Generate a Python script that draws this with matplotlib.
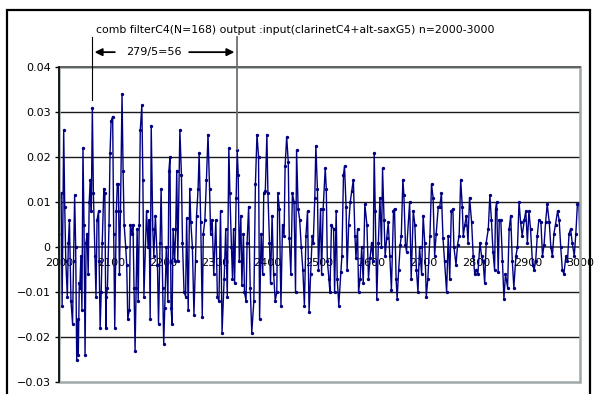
import matplotlib
matplotlib.use('Agg')
import numpy as np
import matplotlib.pyplot as plt
from matplotlib.patches import Rectangle

# sample index n and filter output (x 1e-3)
sample_n = [
    2000, 2002, 2004, 2006, 2009, 2011, 2013, 2016, 2018, 2020, 2023, 2026, 2028, 2030, 2032, 2034,
    2036, 2037, 2039, 2040, 2042, 2044, 2046, 2048, 2050, 2052, 2054, 2056, 2058, 2060, 2062, 2064,
    2066, 2069, 2071, 2073, 2076, 2077, 2079, 2081, 2083, 2086, 2088, 2090, 2091, 2093, 2096, 2098,
    2100, 2103, 2105, 2107, 2110, 2112, 2114, 2116, 2118, 2121, 2123, 2125, 2128, 2130, 2132, 2135,
    2137, 2140, 2142, 2144, 2146, 2148, 2150, 2152, 2154, 2156, 2159, 2161,
    2163, 2168, 2171, 2173, 2175, 2177, 2180, 2182, 2185, 2189, 2191, 2194, 2196, 2199, 2201, 2203,
    2206, 2209, 2211, 2213, 2215, 2217, 2219, 2222, 2224, 2226, 2228, 2232, 2235, 2237, 2240, 2243,
    2245, 2248, 2251, 2253, 2256, 2259, 2262, 2264, 2267, 2269, 2272, 2275, 2277, 2280, 2283, 2286,
    2289, 2291, 2294, 2297, 2301, 2304, 2307, 2310, 2313, 2317, 2320, 2323, 2326, 2328, 2331, 2333,
    2335, 2337, 2340, 2342, 2344, 2346, 2349, 2351, 2354, 2356, 2359, 2361, 2364, 2367, 2370, 2374,
    2377, 2380, 2383, 2385, 2388, 2391, 2393, 2396, 2399, 2401, 2404, 2406, 2409, 2412, 2415, 2418,
    2420, 2423, 2426, 2429, 2432, 2434, 2437, 2440, 2442, 2445, 2448, 2451, 2454, 2456, 2459, 2462,
    2465, 2468, 2471, 2474, 2477, 2480, 2483, 2486, 2488, 2491, 2493, 2496, 2498,
    2502, 2504, 2507, 2511, 2513, 2515, 2518, 2520, 2523, 2527, 2529, 2532, 2534, 2537, 2541, 2543,
    2546, 2548, 2551, 2553, 2556, 2559, 2562, 2565, 2568, 2570, 2573, 2575, 2578, 2581, 2584, 2587,
    2591, 2594, 2597, 2600, 2603, 2605, 2607, 2610, 2613, 2616, 2619, 2621, 2624, 2626, 2629, 2632,
    2635, 2638, 2642, 2644, 2647, 2649, 2652, 2655, 2657, 2660, 2662, 2665, 2667,
    2673, 2676, 2680, 2683, 2686, 2689, 2692, 2696, 2699, 2702, 2705, 2708, 2712, 2715, 2718, 2721,
    2724, 2728, 2731, 2734, 2737, 2740, 2744, 2747, 2750, 2753, 2756, 2758, 2762, 2765, 2768, 2771,
    2774, 2776, 2779, 2782, 2785, 2788, 2792, 2795, 2798, 2801, 2804, 2808, 2811, 2814, 2817, 2820,
    2824, 2827, 2830, 2833, 2836,
    2838, 2840, 2843, 2845, 2848, 2851, 2854, 2857, 2861, 2864, 2867, 2870, 2873, 2877, 2880, 2883,
    2886, 2889, 2893, 2896, 2899, 2902, 2905, 2909, 2912, 2915, 2918, 2921, 2925, 2928, 2931, 2934,
    2937, 2941, 2944, 2947, 2950, 2953, 2957, 2960, 2963, 2966, 2969, 2973, 2976, 2979, 2982, 2985,
    2989, 2992, 2995, 2998, 3000,
]
output_milli = [
    3, 10, 12, -13, 26, 9, -3, -11, 1, 6, -12, -17, -3, 11.5, 0, -25,
    -16, -24, -8, -9, -2, -14, 22, 5, -24, 1, 3, -6, 10, 15, 8, 31,
    12, -2, -11, 6, 8, -3, -18, -10, 1, 13, 12, -18, -11, -9, 5, 21,
    28, 29, 3, -18, 8, 14, 14, -6, 8, 34, 17, 5, 0, -4, -16, -14,
    5, 3, 5, -9, -23, -9, 4, -12, 5, 26, 31.5, 15,
    -11, 8, 0, 6, -16, 27, 4, -2, 7, -4, -17, 1, 13, -9, -21.5, -13.5,
    0, -12, 17, 20, -13.5, -17, 4, -3, 4, 17, -3, 26, 16, 1, -10, -11,
    6.5, -14, 13, 5.5, 0, -15, -3, 7, 13, 21, 5.5, -15.5, 3, 6, 15, 25,
    13, 3, 6, -6, 6, -11, -12, 8, -19, -7, 4, -11, 22, 12, 0, -7,
    4, -8, 11, 21.5, 16, -3, 7, -8.5, 3, -10, -12, 1, 9, -9, -19, -12,
    14, 25, 20, -16, 3, -6, 12, 12.5, 25, 12, 1, -8, 7, -6, -12, -10,
    12, 8.5, -13, 5, 2.5, 18, 24.5, 19, 2, -6, 12, 10, -10, 21.5, 8.5, 6,
    0, -5, -13, 2.5, 8, -14.5, -6, 2.5, 1, 11, 22.5, 13, -5,
    8.5, -6, 8.5, 17.5, 13, -3, -7, -10, 5, 4, -10, 8, -7, -13, -5.5, -2,
    16, 18, 9, -5, 5, 10, 12.5, 15, 2.5, -2.5, 4, -10, -7, 0, -8, 9.5,
    5, -7, -2.5, 1, -3, 21, 8, -11.5, 1, 11, 0, 17.5, 6, -2, 2, 5.5,
    -2, -9.5, 8, 8.5, -7, -11.5, -5, 0.5, 2.5, 15, 11.5, 0.5, -1,
    10, -7, 8, 5, -5, -10, 0, -6, 7, 1, -11, -7, 2.5, 14, 11, -2,
    3, 9, 9, 12, 2, -3, -10, 2.5, -7, 8, 8.5, 0, -4, 0.5, 2.5, 15,
    9, 2.5, 5, 7, 1, 11, 5.5, -2, -6, -5, -6, 1, -2, -3, -8, 1,
    4, 11.5, 6, -1, -5,
    8.5, 10, -5.5, 6, 6, -3, -11.5, -6, -9, 4, 7, -3, -9, -2, 0, 10,
    5.5, 2.5, 6, 8, 1, 8, 4, -4, -5, -3, 2.5, 6, 5.5, -2, 0.5, 5.5,
    9.5, 5.5, 0, -2, 3, 5, 8, 6, 0, -5, -6, -2, -3, 3, 4, 1,
    -2, 3, 9.5, 9.5, 0,
]

y_ticks = [0.04, 0.03, 0.02, 0.01, 0.0, -0.01, -0.02, -0.03]
y_labels = ['0.04', '0.03', '0.02', '0.01', '0', '\u22120.01', '\u22120.02', '\u22120.03']
x_ticks = list(range(2000, 3001, 100))

title = 'comb filterC4(N=168) output :input(clarinetC4+alt-saxG5) n=2000-3000'
period_text = '279/5=56'
mark_left = 2063   # start of the measured span
mark_right = 2342  # five periods later

W, H = 597, 394
fig = plt.figure(figsize=(W / 100, H / 100), dpi=100)
fig.patch.set_facecolor('white')

# outer chart frame (bottom edge runs off the picture)
fig.add_artist(Rectangle((7 / W, -0.1), 583 / W, 1 - 10 / H + 0.1,
                         transform=fig.transFigure, fill=False,
                         edgecolor='black', lw=1.6))

ax = fig.add_axes([59 / W, 12 / H, 521 / W, 315 / H])

y = np.array(output_milli) / 1000.0
ax.plot(sample_n, y, color='#000080', lw=1.0, marker='o', ms=1.4,
        mec='#000080', mfc='#000080', zorder=3)

ax.set_xlim(2000, 3000)
ax.set_ylim(-0.03, 0.04)

# horizontal gridlines
for v in y_ticks[1:-1]:
    if v != 0:
        ax.axhline(v, color='#1a1a1a', lw=1.0, zorder=1)

# plot area border (grey), top edge darker like the gridlines
ax.add_patch(Rectangle((0, 0), 1, 1, transform=ax.transAxes, fill=False,
                       edgecolor='#9ea8a8', lw=1.8, zorder=4, clip_on=False))
ax.axhline(0.04, color='#5a5a5a', lw=1.3, zorder=5, clip_on=False)

for s in ['top', 'right']:
    ax.spines[s].set_visible(False)
ax.spines['left'].set_color('black')
ax.spines['left'].set_linewidth(1.2)
ax.spines['left'].set_zorder(6)
ax.spines['bottom'].set_position(('data', 0))
ax.spines['bottom'].set_color('#404040')
ax.spines['bottom'].set_linewidth(1.2)
ax.spines['bottom'].set_zorder(2)

ax.set_yticks(y_ticks)
ax.set_yticklabels(y_labels)
ax.set_xticks(x_ticks)
ax.set_xticklabels([str(t) for t in x_ticks])
ax.tick_params(axis='y', length=3, width=1, color='black', pad=3, labelsize=8)
ax.tick_params(axis='x', length=0, pad=8, labelsize=8)

# title line
fig.text(96 / W, 1 - 30 / H, title, fontsize=7.8, ha='left', va='center')

# period markers and arrows
ax.plot([mark_left, mark_left], [0.0467, 0.0327], color='black', lw=0.8,
        clip_on=False, zorder=6)
ax.plot([mark_right, mark_right], [0.0467, 0.0218], color='#707070', lw=1.3,
        clip_on=False, zorder=6)
arrow_y = 0.0433
mid = (mark_left + mark_right) / 2 - 20
ax.annotate('', xy=(mark_left, arrow_y), xytext=(mid - 70, arrow_y),
            arrowprops=dict(arrowstyle='-|>', color='black', lw=1.3,
                            mutation_scale=11), annotation_clip=False)
ax.annotate('', xy=(mark_right, arrow_y), xytext=(mid + 62, arrow_y),
            arrowprops=dict(arrowstyle='-|>', color='black', lw=1.3,
                            mutation_scale=11), annotation_clip=False)
ax.text(mid, arrow_y, period_text, fontsize=8, ha='center', va='center')

fig.savefig('out.png', dpi=100)
